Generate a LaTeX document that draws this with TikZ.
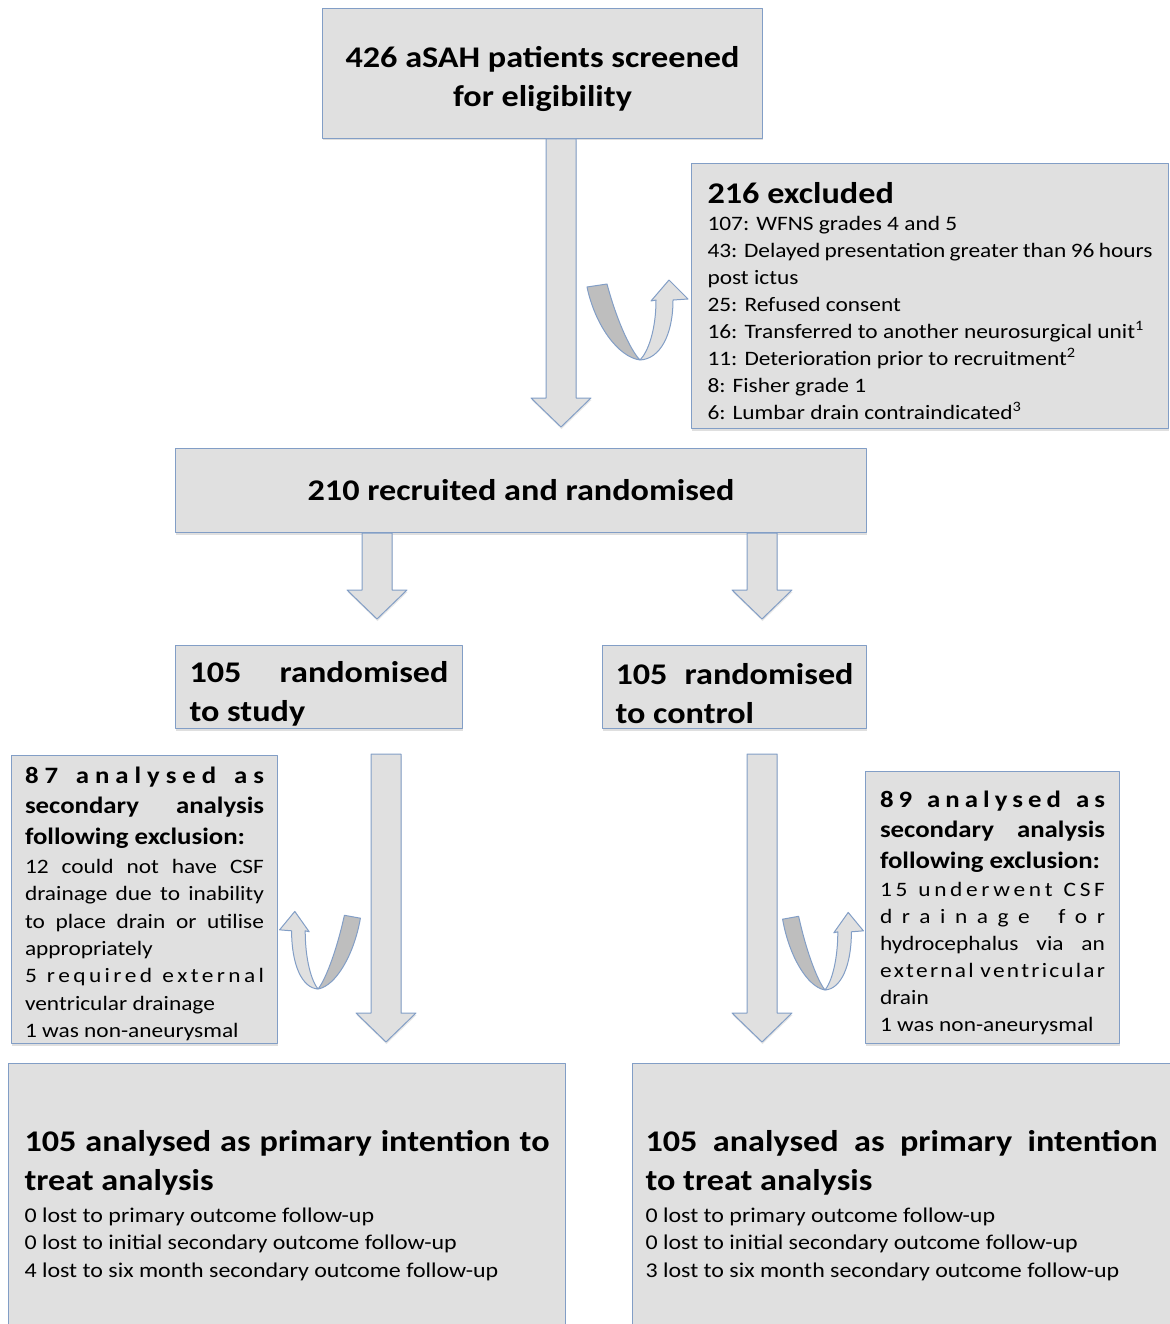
\documentclass[tikz,border=0pt]{standalone}
\usepackage{fontspec}
\setmainfont{Carlito}[FakeStretch=1.14]
\usetikzlibrary{calc,shadows,positioning}

\definecolor{boxfill}{RGB}{224,224,224}
\definecolor{boxline}{RGB}{130,158,198}
\definecolor{bandgray}{RGB}{190,190,190}

\newcommand{\bigbf}{\fontsize{30}{39}\selectfont\bfseries}
\newcommand{\midbf}{\fontsize{23.5}{30.5}\selectfont\bfseries}
\newcommand{\smalltxt}{\fontsize{20.5}{27}\selectfont}
\newcommand{\spreadln}[1]{\makebox[\linewidth][s]{#1}}
\newcommand{\lsp}{\hfill}
\newcommand{\wsp}{\hfill\hfill\hfill}
\newcommand{\topstrut}[1]{\rule{0pt}{#1}}

\tikzset{
  box/.style={draw=boxline, fill=boxfill, line width=1pt, anchor=north west, inner sep=0pt,
              drop shadow={opacity=0.25, shadow xshift=0.5pt, shadow yshift=-2pt}},
  fat/.style={draw=boxline, fill=boxfill, line width=1pt,
              drop shadow={opacity=0.2, shadow xshift=0.5pt, shadow yshift=-2pt},
              to path={let \p1=(\tikztostart), \p2=(\tikztotarget) in
                (\x1-15pt,\y1) -- (\x1-15pt,\y2+29pt) -- (\x1-30pt,\y2+29pt) -- (\x1,\y2)
                -- (\x1+30pt,\y2+29pt) -- (\x1+15pt,\y2+29pt) -- (\x1+15pt,\y1) -- cycle}},
  uturn/.pic={
    \filldraw[fill=bandgray, draw=boxline, line width=1pt] (-53,-73) -- (-33,-76)
      .. controls (-22,-35) and (-8,-8) .. (0,0)
      .. controls (-22,-3) and (-45,-35) .. cycle;
    \filldraw[fill=boxfill, draw=boxline, line width=1pt] (0,0)
      .. controls (20,-1) and (33,-25) .. (33,-60)
      -- (48,-61) -- (29,-80) -- (11,-59) -- (16,-60)
      .. controls (16,-30) and (8,-8) .. (0,0) -- cycle;
  }
}

\begin{document}
\begin{tikzpicture}[x=1pt, y=-1pt, line join=round]
\useasboundingbox (0,0) rectangle (1169,1324);

% boxes
\node[box, minimum width=440pt, minimum height=130pt, text width=420pt, align=flush center, font=\bigbf]
  (screen) at (322,8) {\topstrut{33pt}426 aSAH patients screened\\ for eligibility};

\node[box, minimum width=477pt, minimum height=265pt, text width=445pt, align=flush left]
  (excl) at (691,163) {{\bigbf \topstrut{30.5pt}216 excluded\par}
  {\smalltxt 107: WFNS grades 4 and 5\\
  \spreadln{43: Delayed presentation greater than 96 hours}\\
  post ictus\\
  25: Refused consent\\
  16: Transferred to another neurosurgical unit\textsuperscript{1}\\
  11: Deterioration prior to recruitment\textsuperscript{2}\\
  8: Fisher grade 1\\
  6: Lumbar drain contraindicated\textsuperscript{3}\par}};

\node[box, minimum width=691pt, minimum height=84pt, text width=660pt, align=flush center, font=\bigbf]
  (recruit) at (175,448) {210 recruited and randomised};

\node[box, minimum width=287pt, minimum height=83pt, text width=259pt, align=flush left, font=\bigbf]
  (study) at (175,645) {\spreadln{\topstrut{35pt}105 randomised}\\ to study};
\node[box, minimum width=264pt, minimum height=83pt, text width=238pt, align=flush left, font=\bigbf]
  (control) at (602,645) {\spreadln{\topstrut{35pt}105 randomised}\\ to control};

\node[box, minimum width=266pt, minimum height=288pt, text width=239pt, align=flush left]
  (secL) at (11,755) {{\midbf
  \spreadln{\topstrut{25pt}8\lsp 7\wsp a\lsp n\lsp a\lsp l\lsp y\lsp s\lsp e\lsp d\wsp a\lsp s}\\
  \spreadln{secondary analysis}\\
  following exclusion:\par}\vspace{2pt}
  {\fontsize{20.5}{27.3}\selectfont
  \spreadln{12 could not have CSF}\\
  \spreadln{drainage due to inability}\\
  \spreadln{to place drain or utilise}\\
  appropriately\\
  \spreadln{5\wsp r\lsp e\lsp q\lsp u\lsp i\lsp r\lsp e\lsp d\wsp e\lsp x\lsp t\lsp e\lsp r\lsp n\lsp a\lsp l}\\
  ventricular drainage\\
  1 was non-aneurysmal\par}};

\node[box, minimum width=254pt, minimum height=272pt, text width=225pt, align=flush left]
  (secR) at (865,771) {{\midbf
  \spreadln{\topstrut{27pt}8\lsp 9\wsp a\lsp n\lsp a\lsp l\lsp y\lsp s\lsp e\lsp d\wsp a\lsp s}\\
  \spreadln{secondary analysis}\\
  following exclusion:\par}\vspace{1pt}
  {\smalltxt
  \spreadln{1\lsp 5\wsp u\lsp n\lsp d\lsp e\lsp r\lsp w\lsp e\lsp n\lsp t\wsp C\lsp S\lsp F}\\
  \spreadln{d\lsp r\lsp a\lsp i\lsp n\lsp a\lsp g\lsp e\wsp f\lsp o\lsp r}\\
  \spreadln{hydrocephalus via an}\\
  \spreadln{e\lsp x\lsp t\lsp e\lsp r\lsp n\lsp a\lsp l\wsp v\lsp e\lsp n\lsp t\lsp r\lsp i\lsp c\lsp u\lsp l\lsp a\lsp r}\\
  drain\\
  1 was non-aneurysmal\par}};

\node[box, minimum width=557pt, minimum height=284pt, text width=525pt, align=flush left]
  (primL) at (8,1063) {{\bigbf \spreadln{105 analysed as primary intention to}\\ treat analysis\par}\vspace{4pt}
  {\fontsize{21}{27.5}\selectfont 0 lost to primary outcome follow-up\\
  0 lost to initial secondary outcome follow-up\\
  4 lost to six month secondary outcome follow-up\par}};

\node[box, minimum width=538pt, minimum height=284pt, text width=512pt, align=flush left]
  (primR) at (632,1063) {{\bigbf \spreadln{105 analysed as primary intention}\\ to treat analysis\par}\vspace{4pt}
  {\fontsize{21}{27.5}\selectfont 0 lost to primary outcome follow-up\\
  0 lost to initial secondary outcome follow-up\\
  3 lost to six month secondary outcome follow-up\par}};

% block arrows
\coordinate (a1s) at (561,0 |- screen.south);
\coordinate (a1e) at ($(561,0 |- recruit.north)+(0,-21)$);
\coordinate (a2s) at (377,0 |- recruit.south);
\coordinate (a2e) at ($(377,0 |- study.north)+(0,-26)$);
\coordinate (a3s) at (762,0 |- recruit.south);
\coordinate (a3e) at ($(762,0 |- control.north)+(0,-26)$);
\coordinate (a4s) at ($(386,0 |- study.south)+(0,25)$);
\coordinate (a4e) at ($(386,0 |- primL.north)+(0,-21)$);
\coordinate (a5s) at ($(762,0 |- control.south)+(0,25)$);
\coordinate (a5e) at ($(762,0 |- primR.north)+(0,-21)$);

\path[fat] (a1s) to (a1e);
\path[fat] (a2s) to (a2e);
\path[fat] (a3s) to (a3e);
\path[fat] (a4s) to (a4e);
\path[fat] (a5s) to (a5e);

% turn-away arrows
\pic at (640,360) {uturn};
\pic[xscale=-0.8, yscale=0.97] at (318,989) {uturn};
\pic[xscale=0.8, yscale=0.97] at (825,990) {uturn};
\end{tikzpicture}
\end{document}
